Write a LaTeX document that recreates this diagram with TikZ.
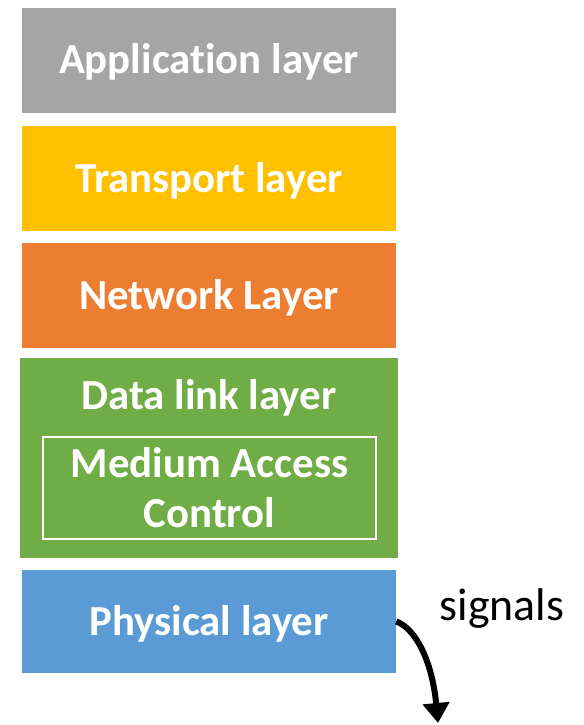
\documentclass[tikz,border=0pt]{standalone}
\usepackage{fontspec}
\setmainfont{Carlito}[Ligatures=NoCommon]
\usetikzlibrary{arrows.meta,positioning}
\definecolor{appgray}{HTML}{A5A5A5}
\definecolor{transyellow}{HTML}{FFC000}
\definecolor{netorange}{HTML}{ED7D31}
\definecolor{linkgreen}{HTML}{70AD47}
\definecolor{physblue}{HTML}{5B9BD5}
\tikzset{
  layer/.style={fill=#1, text=white, inner sep=0pt, align=center,
    minimum width=374bp, minimum height=105bp,
    text height=38bp, text depth=11bp,
    font=\bfseries\fontsize{43}{50}\selectfont},
  laytext/.style={text=white, inner sep=0pt, align=center,
    font=\bfseries\fontsize{43}{50}\selectfont},
}

\begin{document}
\begin{tikzpicture}[x=1bp,y=-1bp]
\useasboundingbox (0,0) rectangle (584,725);
\node[layer=appgray] (app) at (209,60.5) {Application layer};
\node[layer=transyellow] (trans) at (209,178.5) {Transport layer};
\node[layer=netorange] (net) at (209,295.5) {Network Layer};
\node[fill=linkgreen, minimum width=378bp, minimum height=200bp] (link) at (209,458) {};
\node[laytext] (linktxt) at (209,398) {Data link layer};
\node[laytext, draw=white, line width=2bp, minimum width=333bp, minimum height=102bp] (mac) at (209.5,488) {Medium Access\\Control};
\node[layer=physblue, minimum height=103bp] (phys) at (209,621.5) {Physical layer};
% signals leaving the physical layer
\node[inner sep=0pt, font=\fontsize{46}{50}\selectfont] (sig) at (502,609) {signals};
\coordinate (sigend) at (438,723);
\draw[line width=6bp, -{Triangle[length=20bp,width=26bp]}] (phys.east) .. controls (415,628) and (432,660) .. (sigend);
\end{tikzpicture}
\end{document}
